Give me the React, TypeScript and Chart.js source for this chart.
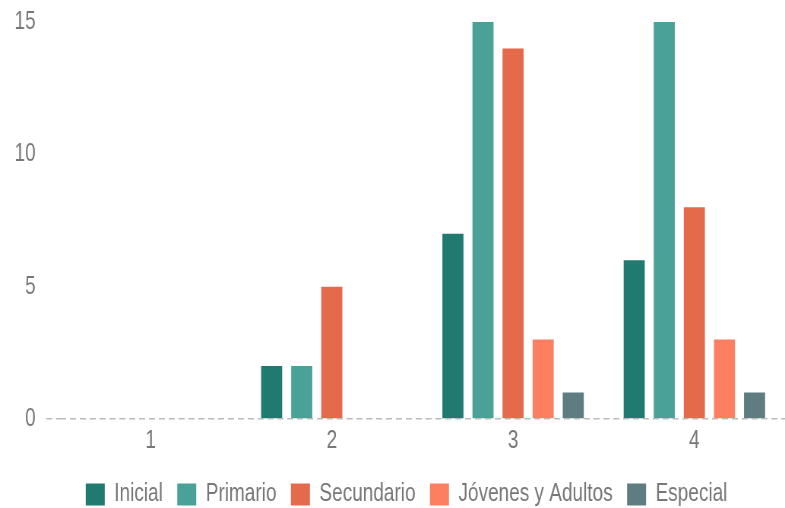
import React, { useEffect, useRef } from "react";
import { Chart, registerables } from "chart.js";

Chart.register(...registerables);

const categories = ["1", "2", "3", "4"];
const seriesNames = ["Inicial", "Primario", "Secundario", "Jóvenes y Adultos", "Especial"];
const inicial = [0, 2, 7, 6];
const primario = [0, 2, 15, 15];
const secundario = [0, 5, 14, 8];
const jovenes = [0, 0, 3, 3];
const especial = [0, 0, 1, 1];
const colors = ["#217a70", "#4aa197", "#e5694b", "#fc7f61", "#5f7d81"];
const yTicks = [0, 5, 10, 15];

const FONT = "'Liberation Sans', Arial, Helvetica, sans-serif";
// the reference is squeezed horizontally: draw on a wider canvas shown at 785px
const SX = 1.316;
const W = 785;
const H = 508;
const CANVAS_H = 517;
const LEGEND_SHIFT = 16;

const legendShift = {
  id: "legendShift",
  afterLayout(chart: any) {
    if (chart.legend) {
      chart.legend.left += LEGEND_SHIFT;
      chart.legend.right += LEGEND_SHIFT;
    }
  },
};

export default function App() {
  const ref = useRef<HTMLCanvasElement | null>(null);
  useEffect(() => {
    document.body.style.margin = "0";
    const values = [inicial, primario, secundario, jovenes, especial];
    const chart = new Chart(ref.current!, {
      type: "bar",
      data: {
        labels: categories,
        datasets: seriesNames.map((name, i) => ({
          label: name,
          data: values[i],
          backgroundColor: colors[i],
          borderWidth: 0,
          categoryPercentage: 0.83,
          barPercentage: 0.7,
        })),
      },
      options: {
        animation: false,
        responsive: false,
        maintainAspectRatio: false,
        devicePixelRatio: 1,
        layout: { padding: { top: 22, left: 5, right: 0, bottom: 0 } },
        plugins: {
          tooltip: { enabled: false },
          legend: {
            position: "bottom",
            labels: {
              boxWidth: 25,
              boxHeight: 22,
              padding: 19,
              color: "#777",
              font: { family: FONT, size: 25 },
            },
          },
        },
        scales: {
          x: {
            grid: { display: false, drawTicks: false },
            border: { display: false },
            ticks: { color: "#777", padding: 7, font: { family: FONT, size: 25 } },
          },
          y: {
            min: 0,
            max: 15,
            afterBuildTicks: (axis: any) => {
              axis.ticks = yTicks.map((v) => ({ value: v }));
            },
            afterFit: (axis: any) => {
              axis.paddingTop = 0;
            },
            ticks: { color: "#777", padding: 14, font: { family: FONT, size: 25 } },
            grid: {
              color: (ctx: any) => (ctx.tick && ctx.tick.value === 0 ? "#bbbbbb" : "rgba(0,0,0,0)"),
              lineWidth: 1.5,
              drawTicks: true,
              tickLength: 18,
              tickBorderDash: [8, 5],
              z: 1,
            },
            border: { display: false, dash: [8, 5] },
          },
        },
      },
      plugins: [legendShift],
    } as any);
    return () => chart.destroy();
  }, []);
  return (
    <div style={{ width: W, height: H, overflow: "hidden" }}>
      <canvas
        ref={ref}
        width={Math.round(W * SX)}
        height={CANVAS_H}
        style={{ display: "block", width: W, height: CANVAS_H }}
      />
    </div>
  );
}
